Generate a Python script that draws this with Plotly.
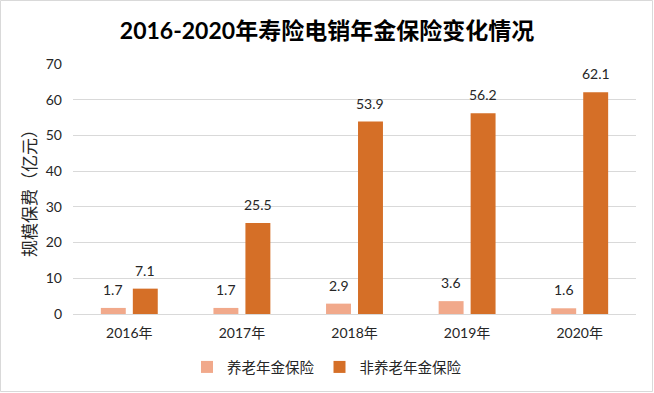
import plotly.graph_objects as go

years = ["2016年", "2017年", "2018年", "2019年", "2020年"]
pension = [1.7, 1.7, 2.9, 3.6, 1.6]
non_pension = [7.1, 25.5, 53.9, 56.2, 62.1]
series_names = ["养老年金保险", "非养老年金保险"]
colors = ["#F1A98B", "#D56F27"]
title_text = "2016-2020年寿险电销年金保险变化情况"
ytitle = "规模保费（亿元）"

FONT = "Lato, 'Noto Sans CJK SC', sans-serif"

fig = go.Figure()
for name, vals, c in zip(series_names, [pension, non_pension], colors):
    fig.add_trace(go.Bar(x=list(range(len(years))), y=vals, name=name, marker_color=c,
                         marker_line_width=0))

# data labels
bargap = 0.432
slot = (1 - bargap) / 2
for k, vals in enumerate([pension, non_pension]):
    off = (k - 0.5) * slot
    for i, v in enumerate(vals):
        fig.add_annotation(x=i + off, y=v, text=f"{v:.1f}", showarrow=False,
                           yanchor="bottom", yshift=8,
                           font=dict(size=14, color="#262626", family=FONT))

ml, mr, mt, mb = 73, 18, 64, 79
W, H = 654, 393
pw, ph = W - ml - mr, H - mt - mb


def px_x(p):
    return (p - ml) / pw


def px_y(p):
    return (H - mb - p) / ph


fig.add_shape(type="rect", xref="paper", yref="paper",
              x0=px_x(0.5), x1=px_x(W - 1.5), y0=px_y(H - 1.5), y1=px_y(0.5),
              line=dict(color="#D9D9D9", width=1), layer="below")

fig.update_layout(
    width=W, height=H, autosize=False,
    margin=dict(l=ml, r=mr, t=mt, b=mb, autoexpand=False),
    paper_bgcolor="white", plot_bgcolor="white",
    barmode="group", bargap=bargap, bargroupgap=0.22,
    title=dict(text=f"<b>{title_text}</b>", x=327 / W, xanchor="center",
               y=1 - 31 / H, yanchor="middle",
               font=dict(size=23, color="#000000", family=FONT)),
    font=dict(family=FONT, color="#262626"),
    showlegend=True,
    legend=dict(orientation="h", xref="container", x=327 / W, xanchor="center",
                yref="container", y=1 - 367 / H, yanchor="middle",
                bgcolor="rgba(0,0,0,0)",
                font=dict(size=14.5, color="#262626", family=FONT),
                itemwidth=30, traceorder="normal"),
    xaxis=dict(tickmode="array", tickvals=list(range(len(years))), ticktext=years,
               range=[-0.5, len(years) - 0.5], showgrid=False, showline=True,
               linecolor="#D9D9D9", linewidth=1, ticks="",
               ticklabelstandoff=6, automargin=False,
               tickfont=dict(size=14, color="#262626", family=FONT)),
    yaxis=dict(range=[0, 70], dtick=10, showgrid=True, gridcolor="#D9D9D9",
               gridwidth=1, zeroline=False, showline=False, ticks="",
               ticklabelstandoff=10, automargin=False,
               tickfont=dict(size=14, color="#262626", family=FONT),
               title=dict(text=ytitle, standoff=4,
                          font=dict(size=17, color="#262626", family=FONT))),
)

fig.write_html("out.html", config={"displayModeBar": False, "responsive": False},
               post_script="document.body.style.margin='0';document.body.style.padding='0';document.body.style.overflow='hidden';")
